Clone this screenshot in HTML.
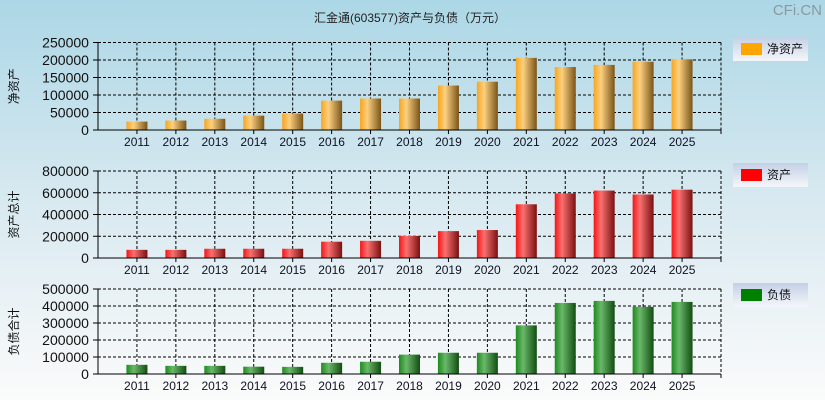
<!DOCTYPE html>
<html><head><meta charset="utf-8"><style>
html,body{margin:0;padding:0;height:400px}
body{width:825px;height:400px;overflow:hidden;background:linear-gradient(#acd7e6,#d8e9f0 50%,#fbfbfb);font-family:"Liberation Sans","Noto Sans CJK SC",sans-serif}
svg{display:block}
</style></head><body>
<svg id="c" width="825" height="400" xmlns="http://www.w3.org/2000/svg">
<defs>
<linearGradient id="gO" x1="0" x2="1"><stop offset="0" stop-color="#f7a51e"/><stop offset="0.35" stop-color="#fcd080"/><stop offset="1" stop-color="#7a5418"/></linearGradient>
<linearGradient id="gR" x1="0" x2="1"><stop offset="0" stop-color="#f51515"/><stop offset="0.35" stop-color="#fa7070"/><stop offset="1" stop-color="#7a1010"/></linearGradient>
<linearGradient id="gG" x1="0" x2="1"><stop offset="0" stop-color="#1e8a1e"/><stop offset="0.35" stop-color="#6ab86a"/><stop offset="1" stop-color="#124d12"/></linearGradient>
<linearGradient id="gL" x1="0" x2="0" y1="0" y2="1"><stop offset="0" stop-color="#c4d0e6"/><stop offset="1" stop-color="#f4f6fa"/></linearGradient>
</defs>
<text x="410" y="22" text-anchor="middle" font-size="12" fill="#222">汇金通(603577)资产与负债（万元）</text>
<text x="822" y="15" text-anchor="end" font-size="15" fill="#8a9a9f">CFi.CN</text>
</svg>
<script>
const years=["2011","2012","2013","2014","2015","2016","2017","2018","2019","2020","2021","2022","2023","2024","2025"];
const netAssets=[24000,27000,32000,41000,47000,84000,90000,90000,127000,138000,206000,180000,186000,195000,202000];
const assets=[75000,75000,85000,85000,85000,150000,158000,203000,247000,257000,494000,594000,620000,584000,628000];
const liabilities=[54000,48000,48000,43000,42000,66000,72000,114000,125000,125000,286000,418000,430000,395000,424000];
const ticks1=[0,50000,100000,150000,200000,250000];
const ticks2=[0,200000,400000,600000,800000];
const ticks3=[0,100000,200000,300000,400000,500000];
const svg=document.getElementById('c');
const NS='http://www.w3.org/2000/svg';
function mk(t,a){const e=document.createElementNS(NS,t);for(const k in a)e.setAttribute(k,a[k]);svg.appendChild(e);return e;}
const L=98,R=721;
function panel(top,bot,vals,ticks,grad,color,ylabel,legend,ly,key){
  const max=ticks[ticks.length-1];
  const y=v=>bot-(v/max)*(bot-top);
  const step=(R-L)/(years.length+1);
  const x=i=>L+(i+1)*step;
  ticks.forEach(t=>{
    if(t>0){const g=mk('line',{x1:L,x2:R,y1:y(t),y2:y(t),stroke:'#000','stroke-dasharray':'3,2','stroke-width':1});
    
    }
    mk('line',{x1:L-5,x2:L,y1:y(t),y2:y(t),stroke:'#000'});
    const tx=mk('text',{x:L-9,y:y(t)+5,'text-anchor':'end','font-size':14,fill:'#111',textLength:String(t).length*7.8,lengthAdjust:'spacingAndGlyphs'});
    tx.textContent=t;
    
    
  });
  years.forEach((yr,i)=>{
    const g=mk('line',{x1:x(i),x2:x(i),y1:top,y2:bot,stroke:'#000','stroke-dasharray':'3,2'});
    
    
    const b=mk('rect',{x:x(i)-10.5,y:y(vals[i]),width:21,height:bot-y(vals[i]),fill:grad});
    
    
    mk('line',{x1:x(i),x2:x(i),y1:bot,y2:bot+4,stroke:'#000'});
    const t=mk('text',{x:x(i),y:bot+16,'text-anchor':'middle','font-size':12,fill:'#112'});
    t.textContent=yr;
    
    
  });
  mk('line',{x1:L,x2:R,y1:top,y2:top,stroke:'#000','stroke-dasharray':'3,2'});
  mk('line',{x1:R,x2:R,y1:top,y2:bot,stroke:'#000','stroke-dasharray':'3,2'});
  mk('line',{x1:L,x2:L,y1:top,y2:bot,stroke:'#000'});
  mk('line',{x1:L,x2:R,y1:bot,y2:bot,stroke:'#000'});
  mk('line',{x1:R,x2:R,y1:bot,y2:bot+4,stroke:'#000'});
  const cy=(top+bot)/2;
  const yl=mk('text',{x:18,y:cy,'text-anchor':'middle','font-size':12,fill:'#111',transform:'rotate(-90 18 '+cy+')'});
  yl.textContent=ylabel;
  
  
  const lb=mk('rect',{x:733,y:ly,width:75,height:24,fill:'url(#gL)'});
  
  
  mk('rect',{x:741,y:ly+6,width:21,height:12,fill:color});
  const lt=mk('text',{x:767,y:ly+16,'font-size':12,fill:'#111'});
  lt.textContent=legend;
  
  
}
panel(42.5,130,netAssets,ticks1,'url(#gO)','#ffa500','净资产','净资产',37,'net-assets');
panel(171,258,assets,ticks2,'url(#gR)','#ff0000','资产总计','资产',163,'assets');
panel(289,374,liabilities,ticks3,'url(#gG)','#008000','负债合计','负债',283,'liabilities');
</script>
</body></html>
